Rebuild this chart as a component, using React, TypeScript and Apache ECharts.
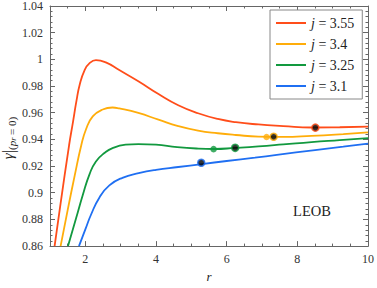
import React, { useEffect, useRef } from "react";
import * as echarts from "echarts";

// r, gamma pairs
const j355: [number, number][] = [
  [1.13, 0.86], [1.3, 0.892], [1.54, 0.9356], [1.65, 0.953], [1.75, 0.969], [1.84, 0.981],
  [1.98, 0.992], [2.12, 0.9972], [2.3, 0.9994], [2.58, 0.9977], [2.96, 0.992], [3.5, 0.9836],
  [4.07, 0.974], [4.63, 0.9656], [5.19, 0.9596], [5.75, 0.9553], [6.26, 0.9529], [6.9, 0.9512],
  [7.6, 0.95], [8.4, 0.9489], [9.2, 0.9491], [10, 0.9495],
];
const j340: [number, number][] = [
  [1.3, 0.86], [1.5, 0.887], [1.7, 0.913], [1.885, 0.9356], [2.02, 0.9476], [2.21, 0.9572],
  [2.49, 0.9624], [2.77, 0.9639], [2.96, 0.9632], [3.5, 0.9598], [4.07, 0.9548], [4.63, 0.95],
  [5.19, 0.9466], [5.75, 0.9446], [6.26, 0.9433], [6.9, 0.9421], [7.6, 0.9419], [8.4, 0.9427],
  [9.3, 0.944], [10, 0.9452],
];
const j325: [number, number][] = [
  [1.51, 0.86], [1.74, 0.881], [1.93, 0.8985], [2.12, 0.914], [2.3, 0.9235], [2.55, 0.93],
  [2.77, 0.9335], [3.14, 0.936], [3.5, 0.9365], [4.0, 0.936], [4.6, 0.9342], [5.2, 0.9331],
  [5.65, 0.9328], [6.24, 0.9336], [6.9, 0.9347], [7.6, 0.9362], [8.4, 0.938], [9.2, 0.9395],
  [10, 0.941],
];
const j310: [number, number][] = [
  [1.82, 0.86], [2.0, 0.8725], [2.16, 0.8835], [2.4, 0.8965], [2.68, 0.9055], [3.05, 0.9112],
  [3.51, 0.9147], [4.0, 0.9172], [4.63, 0.9193], [5.3, 0.9215], [6.0, 0.9238], [6.8, 0.9263],
  [7.42, 0.9284], [8.5, 0.932], [9.3, 0.9345], [10, 0.9368],
];
// marked points
const ringDots355: [number, number][] = [[8.51, 0.9488]];
const plainDots340: [number, number][] = [[7.13, 0.9418]];
const ringDots340: [number, number][] = [[7.33, 0.942]];
const plainDots325: [number, number][] = [[5.63, 0.9327]];
const ringDots325: [number, number][] = [[6.24, 0.9337]];
const ringDots310: [number, number][] = [[5.28, 0.9225]];

const names = ["j = 3.55", "j = 3.4", "j = 3.25", "j = 3.1"];
const colors = ["#ff4d1a", "#ffad0a", "#12993f", "#1f6ff2"];
const xMajor = [2, 4, 6, 8, 10];
const xMinor = [1, 1.5, 2, 2.5, 3, 3.5, 4, 4.5, 5, 5.5, 6, 6.5, 7, 7.5, 8, 8.5, 9, 9.5, 10];

const SERIF = "Liberation Serif, DejaVu Serif, serif";
const AX = "#666";

export default function App() {
  const ref = useRef<HTMLDivElement>(null);
  useEffect(() => {
    if (!ref.current) return;
    const chart = echarts.init(ref.current, null, { renderer: "svg" });
    const lineStyle = { color: AX, width: 1 };
    const mkX = (pos: string, vals: number[], len: number, labels: boolean, line: boolean) => ({
      type: "value",
      min: 1,
      max: 10,
      position: pos,
      axisLine: { show: line, onZero: false, lineStyle },
      axisTick: { show: true, inside: true, length: len, customValues: vals, lineStyle },
      axisLabel: labels
        ? { show: true, customValues: xMajor, fontFamily: SERIF, fontSize: 12, color: "#333", margin: 7 }
        : { show: false },
      splitLine: { show: false },
    });
    const mkY = (pos: string, labels: boolean) => ({
      type: "value",
      min: 0.86,
      max: 1.04,
      interval: 0.02,
      position: pos,
      axisLine: { show: true, onZero: false, lineStyle },
      axisTick: { show: true, inside: true, length: 5, lineStyle },
      minorTick: { show: true, splitNumber: 5, length: 2.5, lineStyle },
      axisLabel: labels
        ? { show: true, fontFamily: SERIF, fontSize: 12, color: "#333", margin: 7 }
        : { show: false },
      splitLine: { show: false },
    });
    const xAxes: any[] = [
      mkX("bottom", xMajor, 5, true, true),
      mkX("bottom", xMinor, 2.5, false, false),
      mkX("top", xMajor, 5, false, true),
      mkX("top", xMinor, 2.5, false, false),
    ];
    xAxes[0].name = "r";
    xAxes[0].nameLocation = "middle";
    xAxes[0].nameGap = 22;
    xAxes[0].nameTextStyle = { fontFamily: SERIF, fontStyle: "italic", fontSize: 13, color: "#222" };

    const datas = [j355, j340, j325, j310];
    const lineSeries = datas.map((d, i) => ({
      name: names[i],
      type: "line",
      data: d,
      smooth: 0.5,
      symbol: "none",
      clip: true,
      lineStyle: { color: colors[i], width: 1.8 },
      itemStyle: { color: colors[i] },
      z: 2 + (3 - i),
    }));
    const ring = (d: [number, number][], c: string) => ({
      type: "scatter",
      data: d,
      symbol: "circle",
      symbolSize: 7,
      itemStyle: { color: "#000", borderColor: c, borderWidth: 1.6 },
      z: 10,
    });
    const plain = (d: [number, number][], c: string) => ({
      type: "scatter",
      data: d,
      symbol: "circle",
      symbolSize: 6.5,
      itemStyle: { color: c },
      z: 10,
    });

    chart.setOption({
      animation: false,
      grid: { left: 50, right: 5, top: 5, bottom: 33, containLabel: false },
      xAxis: xAxes,
      yAxis: [mkY("left", true), mkY("right", false)],
      legend: {
        data: names,
        orient: "vertical",
        left: 270,
        top: 10,
        padding: [6, 8, 6, 6],
        itemGap: 7,
        itemWidth: 30,
        itemHeight: 2,
        icon: "rect",
        borderColor: "#888",
        borderWidth: 1,
        backgroundColor: "#fff",
        formatter: (n: string) => n.replace("j", "{i|j}"),
        textStyle: {
          fontFamily: SERIF,
          fontSize: 14,
          color: "#222",
          rich: { i: { fontFamily: SERIF, fontStyle: "italic", fontSize: 14, color: "#222" } },
        },
      },
      graphic: [
        {
          type: "text",
          x: 312,
          y: 211,
          style: {
            text: "LEOB",
            fontFamily: SERIF,
            fontSize: 14.5,
            fill: "#222",
            align: "center",
            verticalAlign: "middle",
          },
        },
        {
          type: "text",
          x: 8,
          y: 138,
          rotation: Math.PI / 2,
          style: {
            text: "{g|γ}{b||}{s|(}{p|p}{r|r}{s| = 0)}",
            align: "center",
            verticalAlign: "middle",
            rich: {
              g: { fontFamily: SERIF, fontStyle: "italic", fontSize: 15, fill: "#222", lineHeight: 18 },
              b: { fontFamily: SERIF, fontSize: 17, fill: "#222", lineHeight: 18 },
              s: { fontFamily: SERIF, fontSize: 11, fill: "#222", verticalAlign: "bottom", lineHeight: 12 },
              p: { fontFamily: SERIF, fontStyle: "italic", fontSize: 11, fill: "#222", verticalAlign: "bottom", lineHeight: 12 },
              r: { fontFamily: SERIF, fontStyle: "italic", fontSize: 8, fill: "#222", verticalAlign: "bottom", lineHeight: 8 },
            },
          },
        },
      ],
      series: [
        ...lineSeries,
        ring(ringDots355, colors[0]),
        plain(plainDots340, colors[1]),
        ring(ringDots340, colors[1]),
        plain(plainDots325, colors[2]),
        ring(ringDots325, colors[2]),
        ring(ringDots310, colors[3]),
      ],
    } as any);
    return () => chart.dispose();
  }, []);
  return (
    <div
      ref={ref}
      style={{ position: "fixed", left: 0, top: 0, width: 377, height: 288, background: "#fff" }}
    />
  );
}
